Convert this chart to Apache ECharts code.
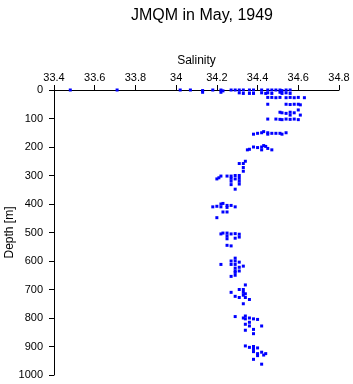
<!DOCTYPE html>
<html>
<head>
    <meta charset="utf-8"/>
    <script src="https://cdn.jsdelivr.net/npm/echarts@6/dist/echarts.min.js"></script>
</head>
<body style="margin:0">
<div id="main" style="width: 353px;height:384px;"></div>
<script type="text/javascript">
    // salinity / depth pairs, grouped roughly by level
    var salinity = [
        33.48, 33.71, 34.02, 34.07, 34.13, 34.18, 34.22, 34.23, 34.27, 34.29, 34.31, 34.33, 34.36, 34.38, 34.42, 34.45, 34.47, 34.49, 34.51, 34.52, 34.54, 34.56,
        34.13, 34.22, 34.31, 34.33, 34.36, 34.38, 34.42, 34.44, 34.45, 34.47, 34.51, 34.52, 34.54, 34.56,
        34.45, 34.47, 34.49, 34.51, 34.54, 34.56, 34.58, 34.60, 34.63,
        34.45, 34.54, 34.56, 34.58, 34.60, 34.61, 34.60,
        34.51, 34.52, 34.54, 34.56, 34.56, 34.58, 34.61,
        34.45, 34.49, 34.51, 34.52, 34.54, 34.56, 34.58, 34.60,
        34.38, 34.40, 34.42, 34.43, 34.45, 34.45, 34.47, 34.49, 34.51, 34.52, 34.54,
        34.35, 34.36, 34.38, 34.40, 34.42, 34.43, 34.45, 34.47, 34.42, 34.44,
        34.31, 34.33, 34.34, 34.33, 34.33,
        34.20, 34.21, 34.22, 34.25, 34.27, 34.27, 34.27, 34.29, 34.29, 34.31, 34.31, 34.31, 34.31, 34.27, 34.29,
        34.18, 34.20, 34.22, 34.22, 34.23, 34.25, 34.25, 34.27, 34.29, 34.23, 34.25, 34.20,
        34.22, 34.23, 34.25, 34.25, 34.25, 34.27, 34.29, 34.29, 34.31, 34.31, 34.25, 34.27,
        34.29, 34.22, 34.27, 34.27, 34.29, 34.29, 34.29, 34.29, 34.31, 34.31, 34.33, 34.29, 34.27, 34.29, 34.31,
        34.34, 34.27, 34.31, 34.33, 34.33, 34.33, 34.34, 34.34, 34.29, 34.31, 34.36, 34.33,
        34.29, 34.33, 34.34, 34.34, 34.36, 34.36, 34.38, 34.40, 34.34, 34.36, 34.42, 34.38, 34.34, 34.38,
        34.34, 34.36, 34.38, 34.38, 34.40, 34.38, 34.40, 34.40, 34.42, 34.43, 34.44, 34.38, 34.42
    ];
    var depth = [
        0, 0, 0, 0, 2, 0, 0, 3, 0, 0, 0, 0, 0, 0, 0, 0, 0, 0, 0, 2, 0, 0,
        8, 8, 10, 12, 12, 12, 10, 12, 10, 12, 8, 12, 10, 12,
        26, 26, 27, 26, 27, 26, 27, 26, 27,
        50, 50, 51, 50, 50, 52, 70,
        78, 80, 82, 78, 88, 80, 88,
        102, 102, 103, 104, 102, 103, 102, 104,
        155, 152, 150, 146, 150, 155, 152, 152, 152, 155, 150,
        210, 208, 200, 202, 200, 195, 205, 210, 210, 198,
        258, 258, 250, 272, 285,
        312, 308, 302, 302, 302, 310, 320, 300, 312, 300, 310, 320, 330, 332, 348,
        410, 408, 400, 410, 398, 405, 412, 405, 410, 428, 428, 448,
        505, 502, 502, 512, 522, 505, 504, 520, 506, 516, 545, 547,
        590, 612, 600, 612, 600, 612, 625, 640, 604, 622, 618, 650, 654, 635, 635,
        684, 710, 700, 700, 710, 720, 715, 728, 724, 728, 735, 750,
        795, 800, 793, 803, 800, 815, 803, 805, 822, 828, 828, 840, 843, 855,
        898, 903, 900, 910, 905, 918, 925, 932, 920, 930, 925, 945, 962
    ];
    var xTicks = [33.4, 33.6, 33.8, 34, 34.2, 34.4, 34.6, 34.8];
    var yTicks = [0, 100, 200, 300, 400, 500, 600, 700, 800, 900, 1000];

    var points = [];
    for (var i = 0; i < salinity.length; i++) {
        points.push([salinity[i], depth[i]]);
    }

    var myChart = echarts.init(document.getElementById('main'));
    var font = 'Liberation Sans';

    option = {
        animation: false,
        title: {
            text: 'JMQM in May, 1949',
            left: 197,
            top: 3,
            textAlign: 'center',
            textStyle: {
                fontFamily: font,
                fontWeight: 'normal',
                fontSize: 16,
                color: '#000'
            }
        },
        grid: {
            left: 54,
            right: 14,
            top: 90,
            bottom: 9,
            containLabel: false,
            outerBoundsMode: 'none'
        },
        xAxis: {
            type: 'value',
            position: 'top',
            min: xTicks[0],
            max: xTicks[xTicks.length - 1],
            interval: 0.2,
            name: 'Salinity',
            nameLocation: 'middle',
            nameGap: 23,
            nameMoveOverlap: false,
            nameTextStyle: {fontFamily: font, fontSize: 12, color: '#000'},
            axisLine: {show: true, lineStyle: {color: '#000', width: 1}},
            axisTick: {show: true, length: 5, lineStyle: {color: '#000'}},
            axisLabel: {
                margin: 7,
                fontFamily: font,
                fontSize: 11,
                color: '#000',
                formatter: function (v) { return +v.toFixed(1) + ''; }
            },
            splitLine: {show: false}
        },
        yAxis: {
            type: 'value',
            inverse: true,
            min: yTicks[0],
            max: yTicks[yTicks.length - 1],
            interval: 100,
            name: 'Depth [m]',
            nameLocation: 'middle',
            nameGap: 38,
            nameMoveOverlap: false,
            nameTextStyle: {fontFamily: font, fontSize: 12, color: '#000'},
            axisLine: {show: true, lineStyle: {color: '#000', width: 1}},
            axisTick: {show: true, length: 5, lineStyle: {color: '#000'}},
            axisLabel: {
                margin: 11,
                fontFamily: font,
                fontSize: 11,
                color: '#000',
                formatter: function (v) { return v + ''; }
            },
            splitLine: {show: false}
        },
        series: [{
            type: 'scatter',
            data: points,
            symbol: 'rect',
            symbolSize: 3,
            itemStyle: {color: '#0000ff', opacity: 1}
        }]
    };

    myChart.setOption(option);
</script>
</body>
</html>
